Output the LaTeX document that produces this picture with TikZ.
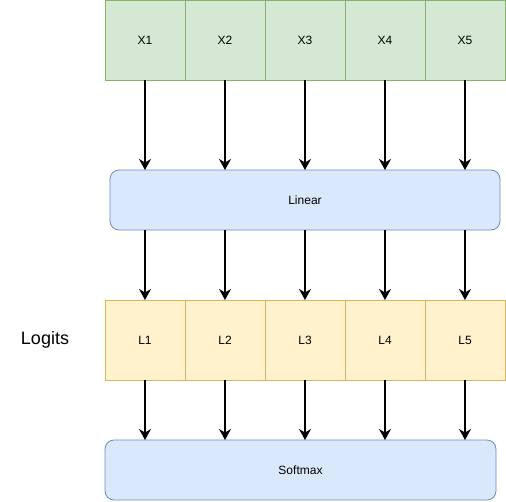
\documentclass[tikz,border=0pt]{standalone}
\usepackage{fontspec}
\setmainfont{Liberation Sans}
\usetikzlibrary{positioning,arrows.meta}

\definecolor{ingreen}{HTML}{D5E8D4}
\definecolor{ingreenline}{HTML}{82B366}
\definecolor{blkblue}{HTML}{DAE8FC}
\definecolor{blkblueline}{HTML}{6C8EBF}
\definecolor{logyellow}{HTML}{FFF2CC}
\definecolor{logyellowline}{HTML}{D6B656}

\begin{document}
\begin{tikzpicture}[
    x=1pt, y=-1pt,
    font=\fontsize{12}{14}\selectfont,
    incell/.style={draw=ingreenline, fill=ingreen, line width=0.8pt,
        minimum width=80pt, minimum height=80pt, inner sep=0pt, outer sep=0pt},
    logcell/.style={incell, draw=logyellowline, fill=logyellow},
    layer/.style={draw=blkblueline, fill=blkblue, line width=0.8pt,
        rounded corners=9pt, minimum height=60pt, inner sep=0pt, outer sep=0pt},
    flow/.style={line width=1.5pt, -{Stealth[length=11pt, width=12pt, inset=3.5pt]}}
]

\useasboundingbox (0,0) rectangle (506,501);

% Input tokens
\foreach \i in {1,...,5}
    \node [incell] (x\i) at (65+80*\i, 40) {X\i};

% Linear layer
\node [layer, minimum width=390pt] (lin) at (305,200) {Linear};

% Logits row
\foreach \i in {1,...,5}
    \node [logcell] (l\i) at (65+80*\i, 340) {L\i};
\node [font=\fontsize{18}{20}\selectfont] (logits) at (45,340) {Logits};

% Softmax layer
\node [layer, minimum width=391pt] (soft) at (300.5,470) {Softmax};

% Arrows
\foreach \i in {1,...,5}
{
    \draw [flow] (x\i) -- (x\i |- lin.north);
    \draw [flow] (l\i |- lin.south) -- (l\i);
    \draw [flow] (l\i) -- (l\i |- soft.north);
}

\end{tikzpicture}
\end{document}
